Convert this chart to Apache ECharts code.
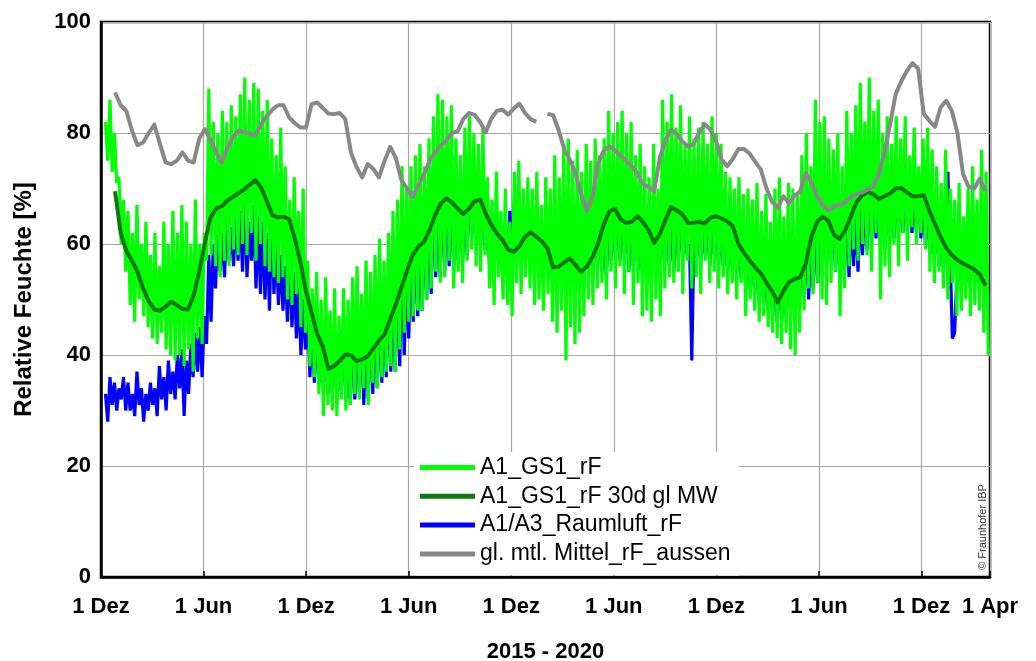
<!DOCTYPE html>
<html><head><meta charset="utf-8">
<script src="https://cdn.jsdelivr.net/npm/echarts@6/dist/echarts.min.js"></script>
<style>html,body{margin:0;padding:0;background:#fff}#c{width:1036px;height:661px}</style>
</head><body><div id="c"></div>
<script>
// x axis: days since 1 Dez 2015
const tickDays = [0,183,366,548,731,913,1096,1278,1461,1583];
const tickLabels = ['1 Dez','1 Jun','1 Dez','1 Jun','1 Dez','1 Jun','1 Dez','1 Jun','1 Dez','1 Apr'];
const xTitle = '2015 - 2020';
const yTitle = 'Relative Feuchte [%]';
const names = ['A1_GS1_rF','A1_GS1_rF 30d gl MW','A1/A3_Raumluft_rF','gl. mtl. Mittel_rF_aussen'];

// A1_GS1_rF (daily readings, every 4th day, from day 8)
const greenStart = 8, greenStep = 4;
const green = [
82,75,86,73,80,71,72,60,68,55,
66,49,62,46,67,50,60,47,64,45,
58,43,62,42,56,44,64,41,60,40,
66,39,62,40,67,38,64,41,60,37,
68,43,60,42,62,57,88,58,82,56,
80,54,84,57,82,56,85,59,83,58,
87,60,90,58,86,62,89,57,88,60,
84,56,86,55,79,54,76,53,81,54,
74,50,68,49,72,51,66,45,70,44,
57,38,52,36,55,33,50,29,54,31,
48,30,52,29,47,32,52,30,50,31,
54,33,56,32,51,34,57,31,55,35,
58,34,61,36,57,37,62,38,66,37,
68,41,74,44,70,46,74,47,76,48,
78,48,74,50,79,52,83,55,87,53,
86,54,83,57,85,52,79,55,76,53,
81,57,83,59,80,56,78,55,81,58,
72,52,68,49,73,54,66,50,70,49,
64,47,73,53,75,51,70,54,72,52,
70,49,73,50,67,48,72,51,70,46,
76,44,72,48,78,39,79,45,75,42,
77,44,73,47,78,50,75,49,79,52,
76,53,79,50,84,55,80,52,82,56,
84,51,80,55,82,49,76,53,78,47,
74,48,72,46,78,50,70,47,86,52,
82,54,87,53,81,55,85,51,78,57,
83,52,79,54,81,51,82,57,78,53,
83,55,80,52,78,54,73,51,72,53,
70,50,72,53,69,47,70,50,68,48,
71,46,66,47,69,45,64,44,70,43,
72,42,65,44,71,41,70,40,69,44,
76,48,80,52,74,51,86,53,82,50,
83,49,79,53,77,55,80,47,74,52,
84,56,80,59,85,57,89,60,82,58,
90,55,84,62,86,50,80,56,83,54,
78,60,83,56,79,62,83,57,76,63,
81,60,74,62,79,59,81,55,77,53,
74,55,71,52,77,50,70,53,68,47,
71,48,65,50,70,47,74,49,68,48,
77,44,73,40
];

// A1/A3_Raumluft_rF (every 4th day, from day 8)
const blueStart = 8, blueStep = 4;
const blue = [
33,28,36,31,35,30,34,32,36,30,
35,30,33,29,37,31,34,28,33,30,
35,31,34,29,38,32,36,30,39,33,
37,32,40,34,41,29,39,33,42,36,
44,37,45,36,47,42,58,46,60,52,
64,55,62,54,66,57,63,56,65,57,
66,55,68,54,64,57,67,52,65,51,
64,50,62,48,66,51,60,49,58,48,
56,46,58,45,55,43,52,40,50,41,
48,36,46,35,45,35,43,34,44,33,
42,33,44,32,41,33,45,32,43,31,
45,32,44,33,46,31,47,32,48,33,
50,34,49,35,52,36,54,37,53,37,
56,38,58,40,56,43,60,46,62,47,
64,48,66,50,68,51,70,54,72,54,
72,55,74,56,72,55,70,57,68,57,
70,58,72,61,70,62,68,60,70,59,
66,56,64,55,66,56,62,54,64,55,
66,55,68,57,66,56,64,57,66,56,
64,55,66,58,64,60,65,61,64,57,
62,57,64,56,62,55,60,54,62,55,
60,54,62,55,60,56,62,57,63,56,
64,55,62,54,66,57,64,58,66,57,
66,58,64,55,66,56,64,55,62,55,
64,56,62,55,63,56,62,56,64,57,
66,56,64,55,66,57,64,58,62,58,
60,39,62,56,64,57,62,58,64,56,
65,58,64,57,62,56,60,55,62,56,
62,55,60,54,61,53,60,52,58,51,
58,50,57,49,56,48,55,47,56,46,
56,46,55,47,56,48,57,49,58,50,
60,51,62,50,60,52,64,53,66,55,
66,56,64,57,65,55,66,56,64,55,
66,54,68,56,66,55,68,58,70,59,
70,60,72,61,70,60,72,59,70,60,
70,61,72,62,71,62,72,63,70,62,
70,62,72,61,70,60,68,58,70,57,
68,56,66,55,64,73,58,43,44,54,
62,52,64,53,62,52,64,53,62,52,
62,50,60,48
];

// A1_GS1_rF 30d gl MW (every 10th day, from day 25)
const mwStart = 25, mwStep = 10;
const mw = [
69.5,62,58.8,57,55,52,49.7,48.2,48,48.7,
49.6,49,48.3,48.2,50.8,55,60.2,64.8,66.4,66.8,
67.8,68.5,69.2,69.8,70.7,71.5,70.2,67.8,65.2,64.8,
64.9,64.5,61,56.8,51.5,47.6,43.8,41.5,37.5,38,
38.9,40.1,40,38.9,39.2,39.8,41.2,42.6,43.7,46.5,
49.1,52.2,55.2,58,59.5,60.4,62.5,65.2,67.3,68.2,
67.5,66.4,65.4,66.3,67.7,68,65.5,63.5,61.9,60.7,
59,58.6,59.6,61.3,62.1,61.3,60.5,59.2,55.8,55.9,
56.7,57.4,56.2,55,55.9,57.6,60,63.5,65.8,66.4,
64.5,63.8,64,65,64,62.5,60.2,61.8,64.3,66.6,
66.1,65.4,63.8,63.8,64,63.7,64.7,65,64.6,64.1,
63.2,60,58.4,57,55.8,54.7,53,51.5,49.5,51.5,
53.1,53.7,54,56.5,61.3,64,64.9,64.2,61.7,60.9,
62.4,64.9,67.5,68.7,69.4,69,68.1,68.6,69.1,70,
70.1,69.3,68.6,68.6,68.8,66,63.6,61.3,59.3,58,
57.1,56.5,56,55.4,54.5,52.5
];

// gl. mtl. Mittel_rF_aussen (every 10th day, from day 25)
const grayStart = 25, grayStep = 10;
const gray = [
87.3,85,84,80.5,77.8,78.3,80,81.5,78,74.7,
74.4,75,76.5,75,74.7,79,80.7,78.8,76.5,74.7,
77.3,79.3,80.4,80.2,79.8,79.7,81.5,83,84.2,85,
85,82.8,81.8,81,81,85.2,85.5,84.5,83.5,83.4,
83.6,82.5,76.5,73.9,72,74.4,73.5,72,75,77.5,
75.5,71.5,70,68.5,70.5,72.5,75,76.5,77.7,78.7,
80,80.3,82.5,83.6,83.3,82,80.1,82.6,84,84.2,
83.3,84.4,85.3,83.6,82.5,82,null,83.5,83.2,80.5,
77,75.2,72.7,69,66,68.5,74.5,76.8,77.6,76.9,
75.9,75,74,72.8,70.8,70.3,69.5,75.5,78.7,80.6,
79.8,78.5,77.6,78,80,81.6,80.6,78.5,75.2,74,
75.3,77.1,77.1,76.3,74.8,73.4,70,67.6,66.5,68.6,
67.4,68.7,69.5,72.8,71.1,68.6,67,66.1,66.8,67,
67.5,68.5,69,69.3,69.8,70.4,72.5,76.5,81.5,87,
89.3,91.2,92.6,91.6,83.5,82.2,81.1,84.6,85.8,84,
80,72.6,70.3,70,71.8,69.5
];

function pairs(start, step, arr){ return arr.map((v,i)=>[start+i*step, v]); }
const FF = '"Liberation Sans", Arial, sans-serif';

const chart = echarts.init(document.getElementById('c'), null, {renderer:'canvas'});
chart.setOption({
  animation:false,
  backgroundColor:'#fff',
  textStyle:{fontFamily:FF},
  grid:{left:101,right:46,top:22,bottom:84,show:true,borderColor:'#000',borderWidth:2.5,backgroundColor:'transparent',
    containLabel:false,outerBoundsMode:'none'},
  xAxis:{type:'value',min:0,max:1583,interval:182.625,
    axisLine:{show:true,onZero:false,lineStyle:{color:'#000',width:2.5}},
    axisTick:{show:true,inside:true,length:6,lineStyle:{color:'#000',width:1.5}},
    axisLabel:{showMinLabel:true,showMaxLabel:true,fontSize:22,fontWeight:'bold',color:'#000',fontFamily:FF,margin:19,
      formatter:function(v){let b=0;for(let i=1;i<tickDays.length;i++){if(Math.abs(tickDays[i]-v)<Math.abs(tickDays[b]-v))b=i;}return tickLabels[b];}},
    splitLine:{show:true,lineStyle:{color:'#a8a8a8',width:1.2}},
    name:xTitle,nameLocation:'middle',nameGap:64,
    nameTextStyle:{fontSize:22,fontWeight:'bold',color:'#000',fontFamily:FF}},
  yAxis:{type:'value',min:0,max:100,interval:20,
    axisLine:{show:true,lineStyle:{color:'#000',width:2.5}},
    axisTick:{show:false},
    axisLabel:{fontSize:22,fontWeight:'bold',color:'#000',fontFamily:FF,margin:10},
    splitLine:{show:true,lineStyle:{color:'#a8a8a8',width:1.2}},
    name:yTitle,nameLocation:'middle',nameGap:65,nameRotate:90,
    nameTextStyle:{fontSize:24,fontWeight:'bold',color:'#000',fontFamily:FF}},
  legend:{data:names,orient:'vertical',left:414,top:452,backgroundColor:'#fff',padding:[4,8,10,6],
    icon:'rect',itemWidth:55,itemHeight:5,itemGap:5.8,selectedMode:false,
    textStyle:{fontSize:23,color:'#000',fontFamily:FF,lineHeight:22}},
  graphic:[{type:'text',x:983,y:527,rotation:Math.PI/2,
    style:{text:'\u00a9 Fraunhofer IBP',fontSize:11,fill:'#333',fontFamily:FF,align:'center',verticalAlign:'middle'}}],
  series:[
    {name:names[2],type:'line',data:pairs(blueStart,blueStep,blue),showSymbol:false,symbol:'none',z:1,
      itemStyle:{color:'#0000ff'},lineStyle:{color:'#0000ff',width:3.2}},
    {name:names[0],type:'line',data:pairs(greenStart,greenStep,green),showSymbol:false,symbol:'none',z:2,
      itemStyle:{color:'#00ff00'},lineStyle:{color:'#00ff00',width:3.2}},
    {name:names[1],type:'line',data:pairs(mwStart,mwStep,mw),showSymbol:false,symbol:'none',z:3,
      itemStyle:{color:'#0d780d'},lineStyle:{color:'#0d780d',width:4,join:'round'}},
    {name:names[3],type:'line',data:pairs(grayStart,grayStep,gray),showSymbol:false,symbol:'none',z:4,connectNulls:false,
      itemStyle:{color:'#888888'},lineStyle:{color:'#888888',width:4,join:'round'}}
  ]
});
</script></body></html>
